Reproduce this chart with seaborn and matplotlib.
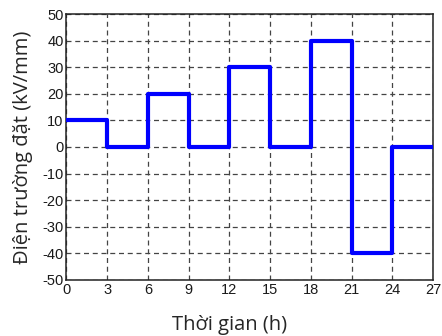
import matplotlib
matplotlib.use("Agg")
import matplotlib.pyplot as plt
import seaborn as sns
import pandas as pd

time_h = [0, 3, 6, 9, 12, 15, 18, 21, 24, 27]
field_kv_mm = [10, 0, 20, 0, 30, 0, 40, -40, 0, 0]
x_ticks = [0, 3, 6, 9, 12, 15, 18, 21, 24, 27]
y_ticks = [-50, -40, -30, -20, -10, 0, 10, 20, 30, 40, 50]

sns.set_style("white")
plt.rcParams['font.family'] = ['Liberation Sans', 'DejaVu Sans']
plt.rcParams['axes.unicode_minus'] = False

df = pd.DataFrame({"t": time_h, "E": field_kv_mm})

fig = plt.figure(figsize=(4.42, 3.36), dpi=100)
ax = fig.add_axes([0.150, 0.167, 0.830, 0.791])
sns.lineplot(data=df, x="t", y="E", ax=ax, drawstyle="steps-post",
             color="#0000ff", linewidth=3.0, zorder=3)

ax.set_xlim(0, 27)
ax.set_ylim(-50, 50)
ax.set_xticks(x_ticks)
ax.set_yticks(y_ticks)
ax.tick_params(axis="both", labelsize=10.5, length=0, pad=2, colors="#1a1a1a")
ax.grid(True, linestyle=(0, (4, 3)), color="#444444", linewidth=0.9)
for s in ax.spines.values():
    s.set_color("#222222")
    s.set_linewidth(1.1)

ax.set_xlabel("Thời gian (h)", family=["Open Sans", "DejaVu Sans"], fontsize=14.5, labelpad=13)
ax.xaxis.label.set_x(0.445)
ax.set_ylabel("Điện trường đặt (kV/mm)", family=["Open Sans", "DejaVu Sans"], fontsize=14.5, labelpad=7)

fig.savefig("out.png", dpi=100)
